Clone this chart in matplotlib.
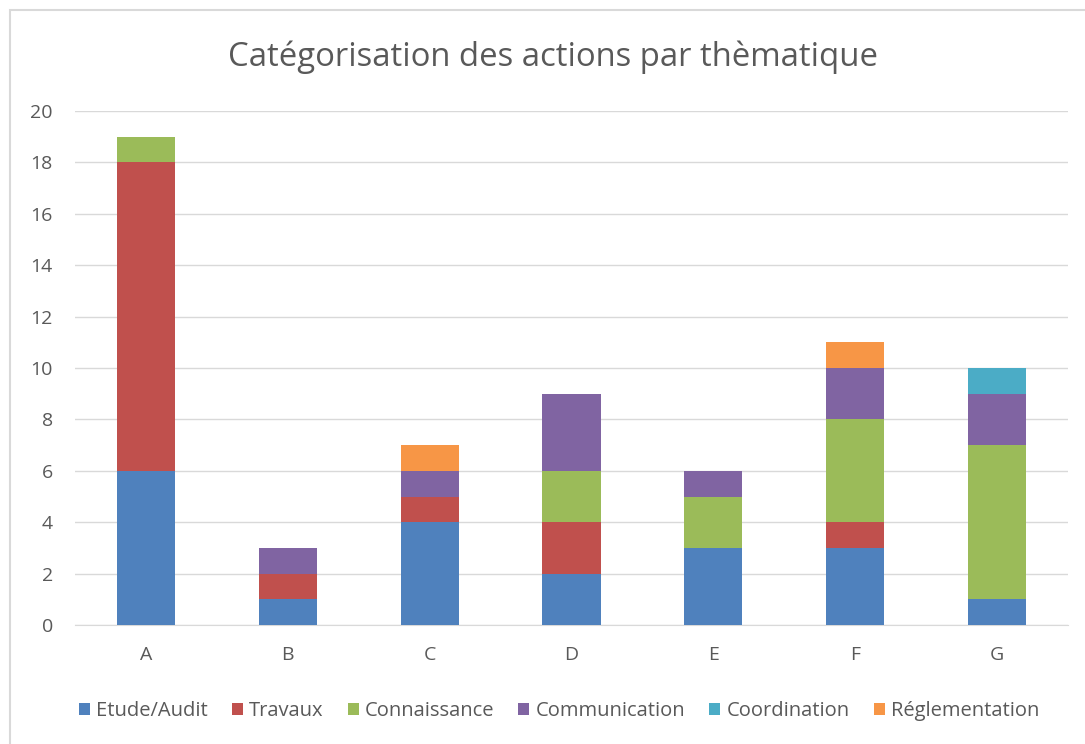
import numpy as np
import matplotlib.pyplot as plt
from matplotlib.patches import Rectangle

plt.rcParams['font.family'] = ['Open Sans', 'DejaVu Sans']

categories = ["A", "B", "C", "D", "E", "F", "G"]
series_names = ["Etude/Audit", "Travaux", "Connaissance", "Communication",
                "Coordination", "Réglementation"]
etude = [6, 1, 4, 2, 3, 3, 1]
travaux = [12, 1, 1, 2, 0, 1, 0]
connaissance = [1, 0, 0, 2, 2, 4, 6]
communication = [0, 1, 1, 3, 1, 2, 2]
coordination = [0, 0, 0, 0, 0, 0, 1]
reglementation = [0, 0, 1, 0, 0, 1, 0]
colors = ["#4F81BD", "#C0504D", "#9BBB59", "#8064A2", "#4BACC6", "#F79646"]

GRAY = "#595959"

fig = plt.figure(figsize=(10.85, 7.44), dpi=100)
fig.patches.append(Rectangle((10 / 1085, -0.01), 1.02, 1 - 10 / 744 + 0.01,
                             transform=fig.transFigure, fill=False,
                             edgecolor="#D9D9D9", linewidth=1.5))
ax = fig.add_axes([75 / 1085, 1 - 625 / 744, (1068 - 75) / 1085, (625 - 111) / 744])

x = np.arange(len(categories))
bottom = np.zeros(len(categories))
for name, vals, c in zip(series_names,
                         [etude, travaux, connaissance, communication, coordination, reglementation],
                         colors):
    ax.bar(x, vals, width=0.41, bottom=bottom, color=c, label=name, zorder=3)
    bottom += np.array(vals)

ax.set_xlim(-0.5, len(categories) - 0.5)
ax.set_ylim(0, 20)
ax.set_yticks(range(0, 21, 2))
ax.set_xticks(x)
ax.set_xticklabels(categories)
ax.yaxis.grid(True, color="#D9D9D9", linewidth=1, zorder=0)
for s in ["top", "right", "left"]:
    ax.spines[s].set_visible(False)
ax.spines["bottom"].set_color("#D9D9D9")
ax.tick_params(length=0, colors=GRAY, labelsize=14)
ax.tick_params(axis="y", pad=16)
ax.tick_params(axis="x", pad=15)

fig.text(553 / 1085, 1 - 57 / 744, "Catégorisation des actions par thèmatique",
         ha="center", va="center", fontsize=23.7, color=GRAY)

fig.legend(loc="center", bbox_to_anchor=(559 / 1085, 1 - 711 / 744), ncol=6,
           frameon=False, fontsize=14.5, handlelength=0.55, handleheight=0.55,
           handletextpad=0.3, columnspacing=1.2, labelcolor=GRAY)

fig.savefig("out.png", dpi=100)
